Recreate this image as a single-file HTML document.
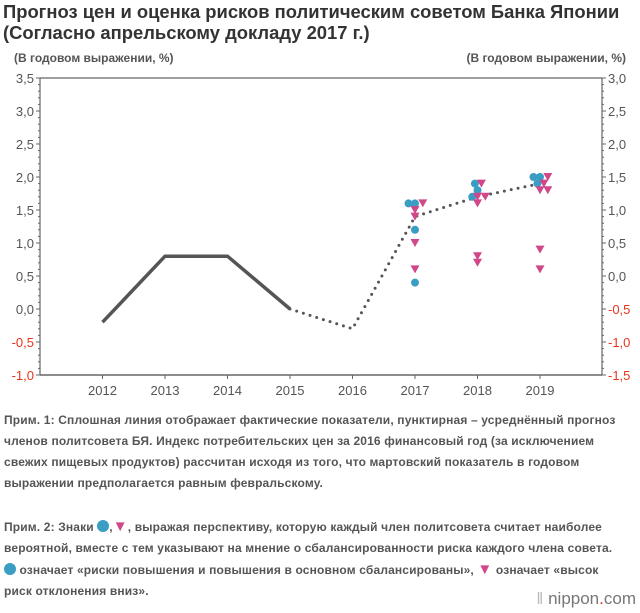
<!DOCTYPE html>
<html><head><meta charset="utf-8">
<style>
body{margin:0;width:640px;height:613px;background:#fff;font-family:"Liberation Sans",sans-serif;overflow:hidden;position:relative}
#title{position:absolute;left:3px;top:1px;font-size:18.4px;font-weight:bold;color:#333;line-height:21px;white-space:nowrap}
.note{position:absolute;left:4px;font-size:12px;font-weight:bold;color:#555;line-height:21px;white-space:nowrap;letter-spacing:0.15px}
.c{display:inline-block;width:12px;height:12px;border-radius:50%;background:#3a9dc4;vertical-align:-1px}
.t{color:#d0478a;font-size:15px}
#logo{position:absolute;right:4px;bottom:4px;font-size:17px;color:#777}
</style></head><body>
<div id="title">Прогноз цен и оценка рисков политическим советом Банка Японии<br>(Согласно апрельскому докладу 2017 г.)</div>
<svg id="chart" width="640" height="400" style="position:absolute;left:0;top:0" font-family="Liberation Sans, sans-serif"></svg>
<div class="note" style="top:410px">Прим. 1: Сплошная линия отображает фактические показатели, пунктирная – усреднённый прогноз<br>членов политсовета БЯ. Индекс потребительских цен за 2016 финансовый год (за исключением<br>свежих пищевых продуктов) рассчитан исходя из того, что мартовский показатель в годовом<br>выражении предполагается равным февральскому.</div>
<div class="note" style="top:516px">Прим. 2: Знаки <span class="c"></span>,<span class="t">▼</span>, выражая перспективу, которую каждый член политсовета считает наиболее<br>вероятной, вместе с тем указывают на мнение о сбалансированности риска каждого члена совета.<br><span class="c"></span> означает «риски повышения и повышения в основном сбалансированы», <span class="t">▼</span> означает «высок<br>риск отклонения вниз».</div>
<div id="logo"><span style="color:#bbb">‖</span> nippon<span style="color:#e8341c">.</span>com</div>
<script>
const years=["2012","2013","2014","2015","2016","2017","2018","2019"];
const actual=[-0.2,0.8,0.8,0.0];
const forecast=[0.0,-0.3,1.4,1.7,1.9];
const leftTicks=["-1,0","-0,5","0,0","0,5","1,0","1,5","2,0","2,5","3,0","3,5"];
const rightTicks=["-1,5","-1,0","-0,5","0,0","0,5","1,0","1,5","2,0","2,5","3,0"];
const circleYears=[5,5,5,5,6,6,6,7,7,7];
const circleVals=[1.6,1.6,1.2,0.4,1.9,1.8,1.7,2.0,2.0,1.9];
const circleOff=[-5,0,0,0,-2,0,-4,-5,0,-2];
const triYears=[5,5,5,5,5,6,6,6,6,6,6,7,7,7,7,7,7];
const triVals=[1.6,1.5,1.4,1.0,0.6,1.9,1.7,1.7,1.6,0.8,0.7,2.0,1.9,1.8,1.8,0.9,0.6];
const triOff=[6,0,0,0,0,3,0,6,0,0,0,6,3,0,6,0,0];
const svg=document.getElementById('chart');
const NS='http://www.w3.org/2000/svg';
const X0=40,X1=602,Y0=375,Y1=78,vmin=-1,vmax=3.5;
const x=i=>102.5+i*62.5;
const y=v=>Y0-(v-vmin)/(vmax-vmin)*(Y0-Y1);
function mk(t,a,p){const e=document.createElementNS(NS,t);for(const k in a)e.setAttribute(k,a[k]);(p||svg).appendChild(e);return e;}
let e;
e=mk('line',{x1:X0,y1:Y0,x2:X1,y2:Y0,stroke:'#666','stroke-width':1.5});

e=mk('line',{x1:X0,y1:Y1,x2:X1,y2:Y1,stroke:'#666','stroke-width':1.2});

e=mk('line',{x1:X0,y1:Y1,x2:X0,y2:Y0,stroke:'#666','stroke-width':1.2});

e=mk('line',{x1:X1,y1:Y1,x2:X1,y2:Y0,stroke:'#666','stroke-width':1.2});

for(let k=0;k<=45;k++){const v=vmin+k*0.1,yy=y(v);const L=k%5==0?4:2;
mk('line',{x1:X0-L,y1:yy,x2:X0,y2:yy,stroke:'#666'});mk('line',{x1:X1,y1:yy,x2:X1+L,y2:yy,stroke:'#666'});}
leftTicks.forEach((s,i)=>{const v=vmin+i*0.5;e=mk('text',{x:X0-6,y:y(v)+5,'text-anchor':'end','font-size':13,fill:v<0?'#e8341c':'#555'});e.textContent=s;
});
rightTicks.forEach((s,i)=>{const v=vmin+i*0.5;e=mk('text',{x:X1+6,y:y(v)+5,'font-size':13,fill:(v-0.5)<0?'#e8341c':'#555'});e.textContent=s;
});
years.forEach((s,i)=>{mk('line',{x1:x(i),y1:Y0,x2:x(i),y2:Y0+4,stroke:'#666'});e=mk('text',{x:x(i),y:Y0+20,'text-anchor':'middle','font-size':13,fill:'#555'});e.textContent=s;
});
e=mk('text',{x:14,y:62,'font-size':12,'font-weight':'bold',fill:'#555'});e.textContent='(В годовом выражении, %)';

e=mk('text',{x:626,y:62,'font-size':12,'font-weight':'bold',fill:'#555','text-anchor':'end'});e.textContent='(В годовом выражении, %)';

e=mk('polyline',{points:actual.map((v,i)=>x(i)+','+y(v)).join(' '),fill:'none',stroke:'#555','stroke-width':3.5});

e=mk('polyline',{points:forecast.map((v,i)=>x(i+3)+','+y(v)).join(' '),fill:'none',stroke:'#555','stroke-width':3,'stroke-dasharray':'0 7','stroke-linecap':'round'});

circleVals.forEach((v,i)=>{e=mk('circle',{cx:x(circleYears[i])+circleOff[i]*1.3,cy:y(v),r:4,fill:'#3a9dc4'});
});
triVals.forEach((v,i)=>{const cx=x(triYears[i])+triOff[i]*1.3,cy=y(v);
e=mk('polygon',{points:`${cx-4.5},${cy-4} ${cx+4.5},${cy-4} ${cx},${cy+4}`,fill:'#d0478a'});
});
</script>
</body></html>
